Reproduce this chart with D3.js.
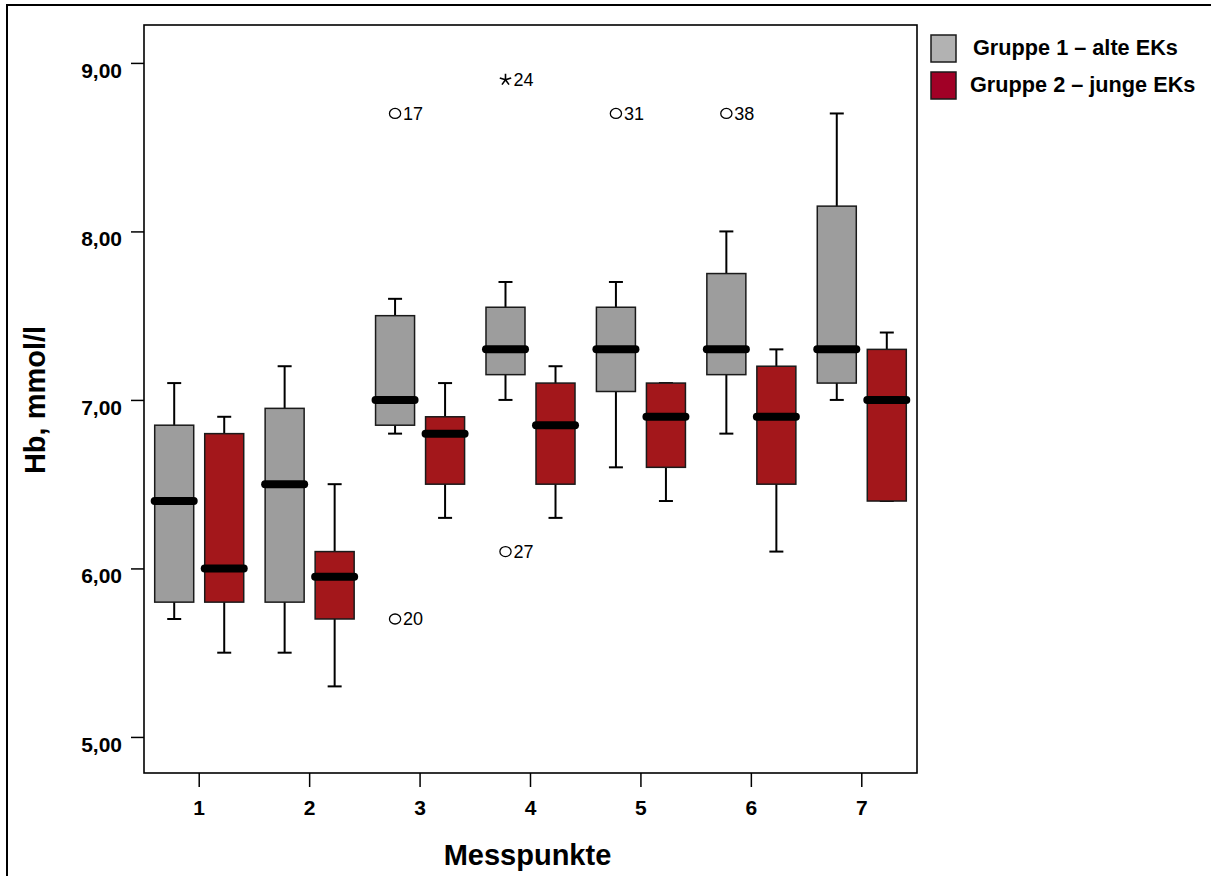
<!DOCTYPE html>
<html>
<head>
<meta charset="utf-8">
<script src="https://cdn.jsdelivr.net/npm/d3@7"></script>
<style>
  html, body { margin: 0; padding: 0; background: #ffffff; }
  svg { display: block; }
  text { font-family: "Liberation Sans", Arial, sans-serif; }
</style>
</head>
<body>
<svg id="chart" width="1211" height="876"></svg>
<script>
// Hb (mmol/l) per measuring point, two groups of red cell concentrates
const categories = ["1", "2", "3", "4", "5", "6", "7"];
const groups = ["Gruppe 1 – alte EKs", "Gruppe 2 – junge EKs"];

// Gruppe 1 – five-number summaries
const g1Low    = [5.70, 5.50, 6.80, 7.00, 6.60, 6.80, 7.00];
const g1Q1     = [5.80, 5.80, 6.85, 7.15, 7.05, 7.15, 7.10];
const g1Median = [6.40, 6.50, 7.00, 7.30, 7.30, 7.30, 7.30];
const g1Q3     = [6.85, 6.95, 7.50, 7.55, 7.55, 7.75, 8.15];
const g1High   = [7.10, 7.20, 7.60, 7.70, 7.70, 8.00, 8.70];

// Gruppe 2 – five-number summaries
const g2Low    = [5.50, 5.30, 6.30, 6.30, 6.40, 6.10, 6.40];
const g2Q1     = [5.80, 5.70, 6.50, 6.50, 6.60, 6.50, 6.40];
const g2Median = [6.00, 5.95, 6.80, 6.85, 6.90, 6.90, 7.00];
const g2Q3     = [6.80, 6.10, 6.90, 7.10, 7.10, 7.20, 7.30];
const g2High   = [6.90, 6.50, 7.10, 7.20, 7.10, 7.30, 7.40];

// Outliers (circle) and extreme values (star) with case numbers
const outlierCategory = ["3", "3", "4", "4", "5", "6"];
const outlierGroup    = [0, 0, 0, 0, 0, 0];
const outlierValue    = [8.70, 5.70, 8.90, 6.10, 8.70, 8.70];
const outlierLabel    = ["17", "20", "24", "27", "31", "38"];
const outlierKind     = ["circle", "circle", "star", "circle", "circle", "circle"];

const yTicks = [5, 6, 7, 8, 9];
const yDomain = [4.786, 9.225];

const boxFill = ["#9d9d9d", "#a3171b"];
const legendFill = ["#b2b2b2", "#a10026"];

// table of boxes built from the arrays above
const boxes = [];
categories.forEach((c, i) => {
  boxes.push({ cat: c, g: 0, low: g1Low[i], q1: g1Q1[i], med: g1Median[i], q3: g1Q3[i], high: g1High[i] });
  boxes.push({ cat: c, g: 1, low: g2Low[i], q1: g2Q1[i], med: g2Median[i], q3: g2Q3[i], high: g2High[i] });
});
const outliers = outlierValue.map((v, i) => ({
  cat: outlierCategory[i], g: outlierGroup[i], value: v, label: outlierLabel[i], kind: outlierKind[i]
}));

const plot = { left: 144, right: 917, top: 25, bottom: 773 };

const svg = d3.select("#chart");

// outer frame of the figure
svg.append("rect")
  .attr("x", 7).attr("y", 5)
  .attr("width", 1230).attr("height", 900)
  .attr("fill", "none").attr("stroke", "#000").attr("stroke-width", 2);

const x = d3.scaleBand().domain(categories).range([plot.left, plot.right]).padding(0);
const xSub = d3.scaleBand().domain([0, 1]).range([0, x.bandwidth()])
  .paddingInner(0.22).paddingOuter(0.214);
const y = d3.scaleLinear().domain(yDomain).range([plot.bottom, plot.top]);

const locale = d3.formatLocale({ decimal: ",", thousands: ".", grouping: [3], currency: ["", "€"] });
const fmt = locale.format(".2f");

// axes
const yAxis = svg.append("g")
  .attr("transform", `translate(${plot.left},0)`)
  .call(d3.axisLeft(y).tickValues(yTicks).tickFormat(fmt).tickSize(13).tickSizeOuter(0).tickPadding(9));
yAxis.select(".domain").remove();
yAxis.selectAll("line").attr("stroke", "#000").attr("stroke-width", 1.5);
yAxis.selectAll("text").attr("font-size", 21).attr("font-weight", "bold").attr("fill", "#000")
  .attr("dy", "0.68em");

const xAxis = svg.append("g")
  .attr("transform", `translate(0,${plot.bottom})`)
  .call(d3.axisBottom(x).tickSize(14).tickSizeOuter(0).tickPadding(13));
xAxis.select(".domain").remove();
xAxis.selectAll("line").attr("stroke", "#000").attr("stroke-width", 1.5);
xAxis.selectAll("text").attr("font-size", 21).attr("font-weight", "bold").attr("fill", "#000");

// plot frame
svg.append("rect")
  .attr("x", plot.left).attr("y", plot.top)
  .attr("width", plot.right - plot.left).attr("height", plot.bottom - plot.top)
  .attr("fill", "none").attr("stroke", "#000").attr("stroke-width", 1.6);

// boxes
const bw = xSub.bandwidth();
const capW = 14;
const bg = svg.append("g").selectAll("g").data(boxes).join("g")
  .attr("transform", d => `translate(${x(d.cat) + xSub(d.g)},0)`);

bg.append("line")
  .attr("x1", bw / 2).attr("x2", bw / 2)
  .attr("y1", d => y(d.high)).attr("y2", d => y(d.low))
  .attr("stroke", "#000").attr("stroke-width", 2);
bg.append("line")
  .attr("x1", bw / 2 - capW / 2).attr("x2", bw / 2 + capW / 2)
  .attr("y1", d => y(d.high)).attr("y2", d => y(d.high))
  .attr("stroke", "#000").attr("stroke-width", 2);
bg.append("line")
  .attr("x1", bw / 2 - capW / 2).attr("x2", bw / 2 + capW / 2)
  .attr("y1", d => y(d.low)).attr("y2", d => y(d.low))
  .attr("stroke", "#000").attr("stroke-width", 2);
bg.append("rect")
  .attr("x", 0).attr("width", bw)
  .attr("y", d => y(d.q3)).attr("height", d => y(d.q1) - y(d.q3))
  .attr("fill", d => boxFill[d.g]).attr("stroke", "#1a1a1a").attr("stroke-width", 1.5);
bg.append("line")
  .attr("x1", 0).attr("x2", bw)
  .attr("y1", d => y(d.med)).attr("y2", d => y(d.med))
  .attr("stroke", "#000").attr("stroke-width", 8).attr("stroke-linecap", "round");

// outliers
const og = svg.append("g").selectAll("g").data(outliers).join("g")
  .attr("transform", d => `translate(${x(d.cat) + xSub(d.g) + bw / 2},${y(d.value)})`);
og.filter(d => d.kind === "circle").append("ellipse")
  .attr("rx", 5.6).attr("ry", 5)
  .attr("fill", "none").attr("stroke", "#000").attr("stroke-width", 1.3);
const starArm = 6;
og.filter(d => d.kind === "star").append("path")
  .attr("d", d3.range(5).map(k => {
    const a = -Math.PI / 2 + k * 2 * Math.PI / 5;
    return `M0,0L${(starArm * Math.cos(a)).toFixed(2)},${(starArm * Math.sin(a)).toFixed(2)}`;
  }).join(""))
  .attr("stroke", "#000").attr("stroke-width", 1.6).attr("fill", "none");
og.append("text")
  .attr("x", 8).attr("dy", "0.36em")
  .attr("font-size", 18).attr("fill", "#000")
  .text(d => d.label);

// axis titles
svg.append("text")
  .attr("x", (plot.left + plot.right) / 2 - 3).attr("y", 865)
  .attr("text-anchor", "middle")
  .attr("font-size", 29).attr("font-weight", "bold")
  .text("Messpunkte");
svg.append("text")
  .attr("transform", `translate(45,${(plot.top + plot.bottom) / 2 + 1}) rotate(-90)`)
  .attr("text-anchor", "middle")
  .attr("font-size", 29).attr("font-weight", "bold")
  .text("Hb, mmol/l");

// legend
const lg = svg.append("g").selectAll("g").data(groups).join("g")
  .attr("transform", (d, i) => `translate(931,${35 + i * 37})`);
lg.append("rect")
  .attr("width", 25).attr("height", 27)
  .attr("fill", (d, i) => legendFill[i]).attr("stroke", "#1a1a1a").attr("stroke-width", 1.5);
lg.append("text")
  .attr("x", (d, i) => i === 0 ? 42 : 39).attr("y", 20)
  .attr("font-size", 21.7).attr("font-weight", "bold")
  .text(d => d);
</script>
</body>
</html>
